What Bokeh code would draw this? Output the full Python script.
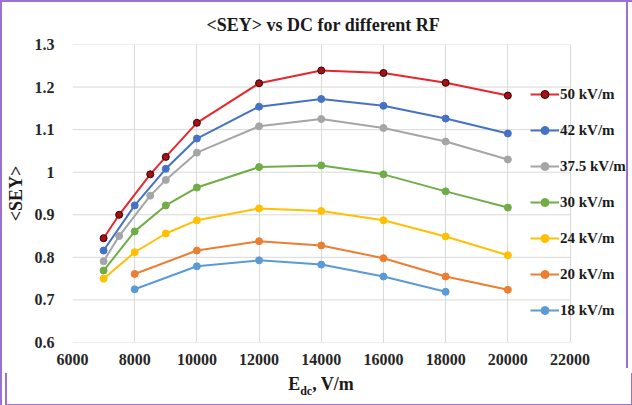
from bokeh.plotting import figure
from bokeh.models import Legend, LegendItem, Range1d, FixedTicker, ColumnDataSource, Div
from bokeh.layouts import column
from bokeh.embed import file_html
from bokeh.resources import INLINE

# ---- data ----
x_50 = [7000, 7500, 8500, 9000, 10000, 12000, 14000, 16000, 18000, 20000]
y_50 = [0.845, 0.900, 0.995, 1.036, 1.116, 1.209, 1.239, 1.233, 1.210, 1.180]
x_42 = [7000, 8000, 9000, 10000, 12000, 14000, 16000, 18000, 20000]
y_42 = [0.816, 0.922, 1.008, 1.079, 1.154, 1.172, 1.156, 1.126, 1.091]
x_375 = [7000, 7500, 8500, 9000, 10000, 12000, 14000, 16000, 18000, 20000]
y_375 = [0.791, 0.850, 0.945, 0.982, 1.046, 1.108, 1.125, 1.104, 1.072, 1.030]
x_30 = [7000, 8000, 9000, 10000, 12000, 14000, 16000, 18000, 20000]
y_30 = [0.769, 0.861, 0.922, 0.964, 1.012, 1.016, 0.995, 0.955, 0.917]
x_24 = [7000, 8000, 9000, 10000, 12000, 14000, 16000, 18000, 20000]
y_24 = [0.750, 0.812, 0.856, 0.887, 0.915, 0.909, 0.887, 0.849, 0.805]
x_20 = [8000, 10000, 12000, 14000, 16000, 18000, 20000]
y_20 = [0.761, 0.816, 0.838, 0.828, 0.798, 0.755, 0.724]
x_18 = [8000, 10000, 12000, 14000, 16000, 18000]
y_18 = [0.725, 0.779, 0.793, 0.783, 0.755, 0.719]

series_names = ["50 kV/m", "42 kV/m", "37.5 kV/m", "30 kV/m", "24 kV/m", "20 kV/m", "18 kV/m"]

x_ticks = [6000, 8000, 10000, 12000, 14000, 16000, 18000, 20000, 22000]
x_tick_labels = ["6000", "8000", "10000", "12000", "14000", "16000", "18000", "20000", "22000"]
y_ticks = [0.6, 0.7, 0.8, 0.9, 1.0, 1.1, 1.2, 1.3]
y_tick_labels = ["0.6", "0.7", "0.8", "0.9", "1", "1.1", "1.2", "1.3"]

title_text = "<SEY> vs DC for different RF"
y_title = "<SEY>"
x_title_html = "E<sub style='font-size:12px'>dc</sub>, V/m"

# ---- styles ----
line_colors = ["#E8262B", "#4472C4", "#A5A5A5", "#70AD47", "#FFC000", "#ED7D31", "#5B9BD5"]
fill_colors = ["#A80F14", "#4472C4", "#A5A5A5", "#70AD47", "#FFC000", "#ED7D31", "#5B9BD5"]
edge_colors = ["#2A0505", "#4472C4", "#A5A5A5", "#70AD47", "#FFC000", "#ED7D31", "#5B9BD5"]
SERIF = "Liberation Serif"
GRID = "#D9D9D9"
BORDER_COLOR = "#9B72CF"
FRAME = "2px solid " + BORDER_COLOR

# frame spans to the right edge so the legend (which overlaps the plot area) is not clipped;
# the visible plot area (gridlines) still ends at 22000
p = figure(width=628, height=368, output_backend="svg", toolbar_location=None,
           x_range=Range1d(6000, 23880), y_range=Range1d(0.6, 1.3),
           min_border_left=63, min_border_right=2, min_border_top=42, min_border_bottom=28,
           styles={"border-top": FRAME, "border-left": FRAME, "border-right": FRAME})

p.title.text = title_text
p.title.align = "left"
p.title.offset = 134
p.title.standoff = 20
p.title.text_font = SERIF
p.title.text_font_size = "18px"
p.title.text_font_style = "bold"
p.title.text_color = "#1a1a1a"

p.xaxis.ticker = FixedTicker(ticks=x_ticks)
p.yaxis.ticker = FixedTicker(ticks=y_ticks)
p.xaxis.major_label_overrides = {t: l for t, l in zip(x_ticks, x_tick_labels)}
p.yaxis.major_label_overrides = {t: l for t, l in zip(y_ticks, y_tick_labels)}

for ax in (p.xaxis[0], p.yaxis[0]):
    ax.axis_line_color = None
    ax.major_tick_line_color = None
    ax.minor_tick_line_color = None
    ax.major_label_text_font = SERIF
    ax.major_label_text_font_size = "16px"
    ax.major_label_text_font_style = "bold"
    ax.major_label_text_color = "#262626"
    ax.axis_label_text_font = SERIF
    ax.axis_label_text_font_style = "bold"
    ax.axis_label_text_font_size = "18px"
    ax.axis_label_text_color = "#1a1a1a"

p.xaxis.major_label_standoff = 5
p.yaxis.major_label_standoff = 12
p.yaxis.axis_label = y_title
p.yaxis.axis_label_standoff = 6

p.xgrid.grid_line_color = GRID
p.ygrid.grid_line_color = None
p.outline_line_color = None

# horizontal gridlines limited to the plot area (6000..22000)
p.segment(x0=[x_ticks[0]] * len(y_ticks), x1=[x_ticks[-1]] * len(y_ticks),
          y0=y_ticks, y1=y_ticks, line_color=GRID, line_width=1)

xs_all = [x_50, x_42, x_375, x_30, x_24, x_20, x_18]
ys_all = [y_50, y_42, y_375, y_30, y_24, y_20, y_18]
items = []
for name, xs, ys, lc, fc, ec in zip(series_names, xs_all, ys_all, line_colors, fill_colors, edge_colors):
    src = ColumnDataSource(dict(x=xs, y=ys))
    r1 = p.line("x", "y", source=src, line_color=lc, line_width=2)
    r2 = p.scatter("x", "y", source=src, size=7, fill_color=fc, line_color=ec, line_width=1)
    items.append(LegendItem(label=name, renderers=[r1, r2]))

legend = Legend(items=items, location=(458, 22), orientation="vertical",
                glyph_width=29, glyph_height=20, label_height=20, spacing=16,
                padding=0, margin=0, label_standoff=1,
                background_fill_alpha=0, border_line_alpha=0,
                label_text_font=SERIF, label_text_font_style="bold",
                label_text_font_size="15px", label_text_color="#1a1a1a")
p.add_layout(legend)

# x-axis title with subscript (real HTML text below the plot)
xt = Div(text=("<div style=\"width:628px;text-align:center;font-family:'Liberation Serif';"
               "font-weight:bold;font-size:18px;color:#1a1a1a;line-height:22px;\">"
               + x_title_html + "</div>"),
         width=628, height=33,
         styles={"border-bottom": FRAME, "border-left": FRAME, "border-right": FRAME,
                 "background": "white"})

# inset shadow on the container fills any gap in the side borders between the two parts
layout = column(p, xt, spacing=0,
                styles={"box-shadow": "inset 0 0 0 2px " + BORDER_COLOR, "background": "white"})

open("out.html", "w").write(file_html(layout, INLINE))
